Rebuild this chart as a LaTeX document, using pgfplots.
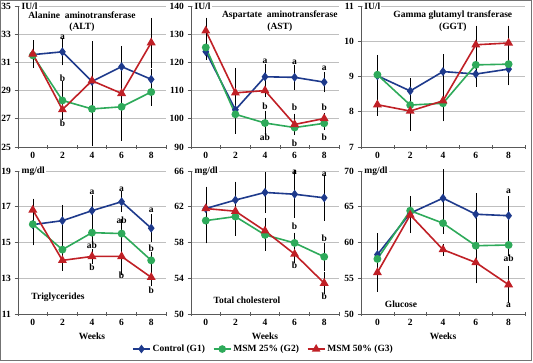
\documentclass[border=0pt]{standalone}
\usepackage{fontspec}
\setmainfont{Liberation Serif}
\usepackage{pgfplots}
\pgfplotsset{compat=1.18}
\definecolor{cblue}{RGB}{30,58,140}
\definecolor{cgreen}{RGB}{46,170,90}
\definecolor{cred}{RGB}{192,32,38}
\newcommand\fs{\bfseries\fontsize{9.5}{11}\selectfont}
\tikzset{
  unit/.style={anchor=west, fill=white, inner sep=1.2pt, font=\fs},
  ttl/.style={font=\fs, inner sep=0pt},
  lt/.style={font=\fs, inner sep=0pt},
}
\pgfplotsset{
  panel/.style={
    scale only axis, anchor=north west, width=148pt, height=141pt,
    axis x line*=bottom, axis y line*=left,
    axis line style={black!65, line width=0.7pt},
    xmin=-1, xmax=9, xtick={0,2,4,6,8},
    minor xtick={-1,1,3,5,7,9},
    major x tick style={draw=none},
    xtick align=center, ytick align=outside,
    major tick length=3.5pt, minor tick length=4pt,
    tick style={black!65, line width=0.6pt},
    ymajorgrids, major grid style={black!25, line width=0.6pt},
    ticklabel style={font=\fs, text=black},
    /pgf/number format/assume math mode=true,
    clip=false,
    xlabel style={font=\fs},
  },
  errs/.style={
    error bars/y dir=both, error bars/y explicit,
    error bars/error bar style={black, line width=0.55pt, solid},
    error bars/error mark options={black, mark size=2.3pt, line width=0.55pt},
  },
  s1/.style={color=cblue, line width=1.6pt, mark=diamond*, mark size=3.2pt, mark options={solid, fill=cblue}, errs},
  s2/.style={color=cgreen, line width=1.6pt, mark=*, mark size=3.1pt, mark options={solid, fill=cgreen}, errs},
  s3/.style={color=cred, line width=1.6pt, mark=triangle*, mark size=3.6pt, mark options={solid, fill=cred}, errs},
}
\begin{document}
\begin{tikzpicture}
\path[use as bounding box] (0,0) rectangle (533pt,-363pt);
\draw[black!55, line width=1.2pt] (0.8pt,-0.8pt) rectangle (531.8pt,-360.5pt);

% ---------- ALT
\begin{axis}[panel, at={(18pt,-6pt)}, ymin=25, ymax=35, ytick={25,27,...,35}]
\addplot[s1] coordinates {(0,31.55)+-(0,0.8) (2,31.75)+-(0,0.8) (4,29.65)+-(0,0.55) (6,30.7)+-(0,0.6) (8,29.8)+-(0,0.6)};
\addplot[s2] coordinates {(0,31.5)+-(0,0.7) (2,28.3)+-(0,1.2) (4,27.7)+-(0,2.5) (6,27.85)+-(0,1.65) (8,28.9)+-(0,0.8)};
\addplot[s3] coordinates {(0,31.6)+-(0,0.8) (2,27.65)+-(0,0.5) (4,29.7)+-(0,2.65) (6,28.8)+-(0,3.2) (8,32.4)+-(0,1.6)};
\node[unit] at (rel axis cs:0.015,1) {IU/l};
\node[ttl] at (rel axis cs:0.432,0.936) {Alanine\ \ aminotransferase};
\node[ttl] at (rel axis cs:0.432,0.851) {(ALT)};
\node[lt] at (axis cs:2,32.8) {a};
\node[lt] at (axis cs:2,29.87) {b};
\node[lt] at (axis cs:2,26.68) {b};
\end{axis}

% ---------- AST
\begin{axis}[panel, at={(191pt,-6pt)}, ymin=90, ymax=140, ytick={90,100,...,140}]
\addplot[s1] coordinates {(0,123.8)+-(0,2) (2,103.2)+-(0,2.5) (4,114.9)+-(0,3.8) (6,114.7)+-(0,3.6) (8,113)+-(0,2.8)};
\addplot[s2] coordinates {(0,125.3)+-(0,3) (2,101.6)+-(0,6) (4,98.5)+-(0,3.5) (6,96.9)+-(0,1.8) (8,98.4)+-(0,1.5)};
\addplot[s3] coordinates {(0,131.2)+-(0,3.9) (2,109.2)+-(0,8) (4,110)+-(0,1.5) (6,98)+-(0,3) (8,100.1)+-(0,1.2)};
\node[unit] at (rel axis cs:0.015,1) {IU/l};
\node[ttl] at (rel axis cs:0.60,0.936) {Aspartate\ \ aminotransferase};
\node[ttl] at (rel axis cs:0.60,0.851) {(AST)};
\node[lt] at (axis cs:4,120.5) {a};
\node[lt] at (axis cs:6,119.9) {a};
\node[lt] at (axis cs:8,117.9) {a};
\node[lt] at (axis cs:4,104.3) {b};
\node[lt] at (axis cs:6,104.1) {b};
\node[lt] at (axis cs:8,104.1) {b};
\node[lt] at (axis cs:4,93.3) {ab};
\node[lt] at (axis cs:6,91.5) {b};
\node[lt] at (axis cs:8,93.6) {b};
\end{axis}

% ---------- GGT
\begin{axis}[panel, at={(361pt,-6pt)}, width=164pt, ymin=7, ymax=11, ytick={7,8,...,11}]
\addplot[s1] coordinates {(0,9.02)+-(0,0.5) (2,8.59)+-(0,0.3) (4,9.14)+-(0,0.42) (6,9.07)+-(0,0.3) (8,9.21)+-(0,0.4)};
\addplot[s2] coordinates {(0,9.05)+-(0,0.5) (2,8.19)+-(0,0.3) (4,8.24)+-(0,0.45) (6,9.33)+-(0,0.55) (8,9.35)+-(0,0.35)};
\addplot[s3] coordinates {(0,8.2)+-(0,0.25) (2,8.02)+-(0,0.5) (4,8.31)+-(0,0.5) (6,9.9)+-(0,0.48) (8,9.95)+-(0,0.43)};
\node[unit] at (rel axis cs:0.012,1) {IU/l};
\node[ttl] at (rel axis cs:0.56,0.936) {Gamma glutamyl transferase};
\node[ttl] at (rel axis cs:0.56,0.851) {(GGT)};
\end{axis}

% ---------- Triglycerides
\begin{axis}[panel, at={(18pt,-171pt)}, height=143pt, ymin=11, ymax=19, ytick={11,13,...,19}, xlabel={Weeks}]
\addplot[s1] coordinates {(0,16.0)+-(0,0.6) (2,16.22)+-(0,0.75) (4,16.78)+-(0,0.75) (6,17.28)+-(0,0.45) (8,15.8)+-(0,0.65)};
\addplot[s2] coordinates {(0,16.02)+-(0,1.05) (2,14.6)+-(0,0.7) (4,15.55)+-(0,0.5) (6,15.5)+-(0,0.7) (8,14.0)+-(0,0.35)};
\addplot[s3] coordinates {(0,16.82)+-(0,0.5) (2,14.0)+-(0,0.45) (4,14.22)+-(0,0.27) (6,14.22)+-(0,0.9) (8,13.05)+-(0,0.35)};
\node[unit] at (rel axis cs:0.015,1) {mg/dl};
\node[ttl] at (axis cs:1.70,11.95) {Triglycerides};
\node[lt] at (axis cs:4,17.79) {a};
\node[lt] at (axis cs:4,14.86) {ab};
\node[lt] at (axis cs:4,13.61) {b};
\node[lt] at (axis cs:6,17.97) {a};
\node[lt] at (axis cs:6,16.22) {ab};
\node[lt] at (axis cs:6,13.18) {b};
\node[lt] at (axis cs:8,16.78) {a};
\node[lt] at (axis cs:8,14.67) {b};
\node[lt] at (axis cs:8,12.34) {b};
\end{axis}

% ---------- Total cholesterol
\begin{axis}[panel, at={(191pt,-171pt)}, height=143pt, ymin=50, ymax=66, ytick={50,54,...,66}, xlabel={Weeks},
  legend entries={Control (G1), MSM 25\% (G2), MSM 50\% (G3)},
  legend columns=3,
  legend style={at={(0.49,-0.245)}, anchor=center, draw=none, fill=none, font=\fs,
    /tikz/every even column/.append style={column sep=6pt}},
  legend image post style={line width=1.4pt}]
\addplot[s1] coordinates {(0,61.8)+-(0,2.2) (2,62.75)+-(0,1.8) (4,63.6)+-(0,2) (6,63.4)+-(0,2.4) (8,63.0)+-(0,2.3)};
\addplot[s2] coordinates {(0,60.45)+-(0,2.3) (2,60.9)+-(0,1.9) (4,58.85)+-(0,1.5) (6,57.95)+-(0,0.9) (8,56.4)+-(0,1.3)};
\addplot[s3] coordinates {(0,61.8)+-(0,0.8) (2,61.5)+-(0,0.8) (4,59.3)+-(0,1.2) (6,56.7)+-(0,0.7) (8,53.45)+-(0,1.0)};
\node[unit] at (rel axis cs:0.015,1) {mg/dl};
\node[ttl] at (axis cs:2.78,51.57) {Total cholesterol};
\node[lt] at (axis cs:6,65.9) {a};
\node[lt] at (axis cs:8,65.6) {a};
\node[lt] at (axis cs:6,59.77) {b};
\node[lt] at (axis cs:8,58.47) {b};
\node[lt] at (axis cs:6,55.49) {b};
\node[lt] at (axis cs:8,51.94) {b};
\end{axis}

% ---------- Glucose
\begin{axis}[panel, at={(361pt,-171pt)}, width=164pt, height=143pt, ymin=50, ymax=70, ytick={50,55,...,70}, xlabel={Weeks}]
\addplot[s1] coordinates {(0,58.3)+-(0,0.4) (2,64.1)+-(0,1.6) (4,66.2)+-(0,3.7) (6,63.95)+-(0,2.6) (8,63.75)+-(0,2.4)};
\addplot[s2] coordinates {(0,57.7)+-(0,3.3) (2,64.45)+-(0,1.75) (4,62.7)+-(0,1.2) (6,59.55)+-(0,1.2) (8,59.65)+-(0,1.2)};
\addplot[s3] coordinates {(0,55.8)+-(0,2.4) (2,63.85)+-(0,2.2) (4,59.0)+-(0,0.5) (6,57.2)+-(0,2.6) (8,54.1)+-(0,2.3)};
\node[unit] at (rel axis cs:0.012,1) {mg/dl};
\node[ttl] at (axis cs:1.44,51.4) {Glucose};
\node[lt] at (axis cs:8,67.1) {a};
\node[lt] at (axis cs:8,57.8) {ab};
\node[lt] at (axis cs:8,51.26) {a};
\end{axis}
\end{tikzpicture}
\end{document}
